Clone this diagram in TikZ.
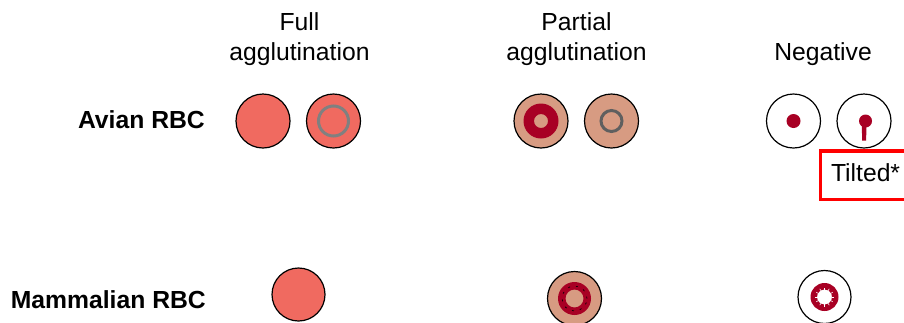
\documentclass[tikz,border=0pt]{standalone}
\usepackage{fontspec}
\setmainfont{Liberation Sans}
\usetikzlibrary{positioning}
\definecolor{rbcpink}{RGB}{240,106,96}
\definecolor{rbctan}{RGB}{215,155,130}
\definecolor{rbcdark}{RGB}{168,0,36}
\definecolor{ringgrey}{RGB}{128,128,128}
\definecolor{ringdark}{RGB}{95,95,95}

\begin{document}
\begin{tikzpicture}[x=1bp,y=-1bp,node distance=70.5bp]
        \tikzstyle{well}=[circle,draw=black,line width=1.2bp,minimum size=54bp,inner sep=0pt]
        \tikzstyle{bigtext}=[font=\fontsize{24.7bp}{29.5bp}\selectfont,inner sep=0pt]
        \tikzstyle{heading}=[bigtext,align=center]
        \tikzstyle{rowlabel}=[bigtext,font=\fontsize{24.7bp}{29.5bp}\selectfont\bfseries]
        \tikzstyle{greyring}=[line width=3bp]
        \useasboundingbox (0,0) rectangle (904,322);

        % column heads
        \node[heading,anchor=north]  (HFull) at (299.5,12.7)  {Full\\agglutination};
        \node[heading,anchor=north]  (HPart) at (576.5,12.7)  {Partial\\agglutination};
        \node[bigtext,anchor=base]   (HNeg)  at (823,60)      {Negative};

        % row labels
        \node[rowlabel,anchor=base east] (LAvian) at (205,128.3) {Avian RBC};
        \node[rowlabel,anchor=base east] (LMamm)  at (206,308)   {Mammalian RBC};

        % avian wells
        \node[well,fill=rbcpink]  (A1) at (263,121)       { }; % full
        \node[well,fill=rbcpink]  (A2) [right of=A1]      { };
        \node[well,fill=rbctan]   (P1) at (541,121)       { }; % partial
        \node[well,fill=rbctan]   (P2) [right of=P1]      { };
        \node[well,fill=white]    (N1) at (793.5,121)     { }; % negative
        \node[well,fill=white]    (N2) [right of=N1]      { };

        % mammalian wells
        \node[well,fill=rbcpink,minimum size=53bp]  (M1) at (298.5,294.5) { };
        \node[well,fill=rbctan]                     (M2) at (574.5,298.5) { };
        \node[well,fill=white,minimum size=53bp]    (M3) at (824.5,297)   { };

        % buttons and rings
        \draw[ringgrey,greyring] (A2.center) circle (15bp);
        \fill[rbcdark,even odd rule] (P1.center) circle (17.5bp) circle (7bp);
        \draw[ringdark,greyring] (P2.center) circle (10.5bp);
        \fill[rbcdark] (N1.center) circle (7bp);
        \fill[rbcdark] ([xshift=1.5bp]N2.center) circle (6.5bp);
        \fill[rbcdark] ([xshift=-2.2bp]N2.center) -- ([xshift=2.6bp]N2.center)
              -- ([xshift=2.1bp,yshift=-19.5bp]N2.center)
              -- ([xshift=-1.9bp,yshift=-19.5bp]N2.center) -- cycle;
        \fill[rbcdark,even odd rule] (M2.center) circle (16.5bp) circle (9bp);
        \draw[black,line width=0.6bp,dash pattern=on 2bp off 6bp] (M2.center) circle (12.5bp);
        \fill[rbcdark,even odd rule] (M3.center) circle (14bp) circle (7.5bp);
        \foreach \a in {0,30,...,330}
              \draw[white,line width=0.6bp] ([shift={(\a:7bp)}]M3.center) -- ([shift={(\a:9.5bp)}]M3.center);

        % tilted note
        \node[bigtext,draw=red,line width=3.5bp,outer sep=0pt,anchor=west,inner xsep=10.5bp,
              minimum height=48.5bp,text height=18bp,text depth=5bp] (Tilt) at (820.5,175.25) {Tilted*};
\end{tikzpicture}
\end{document}
